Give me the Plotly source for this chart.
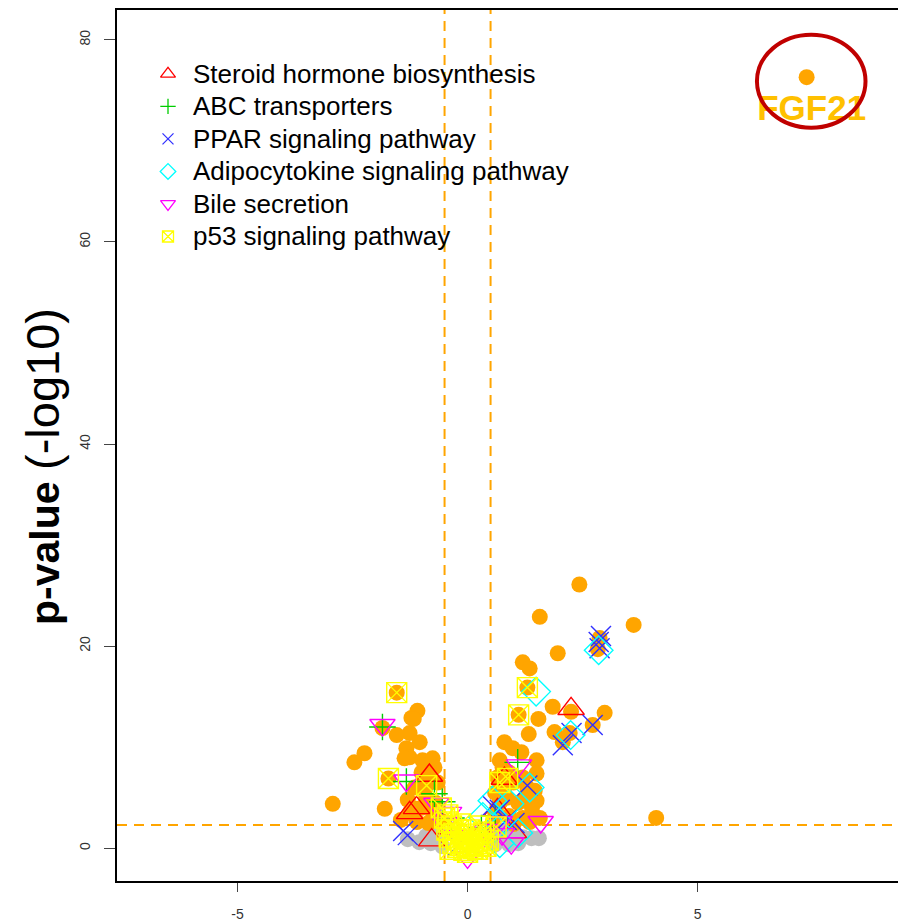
import plotly.graph_objects as go

# ---------------- data ----------------
# significant genes (orange filled circles): log2 fold change, -log10 p
sig_x = [2.43, 1.57, 3.61, 1.96, 1.20, 1.35, 2.87, 2.83, 1.30, 1.11, 1.85, 1.54,
         2.25, 2.98, 2.72, 1.33, 1.89, 2.07, 2.22, 0.80, 0.98, 1.17, 1.50, 0.70,
         0.76, 1.50, 1.46, 1.50, 1.57, 4.10, 0.65, 0.90, 1.00, 1.20, 0.60, 0.80,
         1.30, 0.70, 1.10, 0.60, 0.90, 1.20, 1.35, 0.55, 1.00, 1.40, 0.85, 1.25,
         -1.54, -1.09, -1.22, -1.85, -1.54, -1.26, -1.04, -2.24, -2.46, -1.33,
         -1.26, -1.37, -0.98, -0.76, -0.72, -1.72, -0.89, -2.93, -1.80, -1.26,
         -1.11, -1.17, -1.00, -0.80, -0.65, -1.15, -0.90, -0.70, -1.30, -1.00,
         -0.75, -1.45, -0.60, -1.10, -0.85, 7.37]
sig_y = [26.1, 22.9, 22.1, 19.3, 18.4, 17.8, 20.8, 19.7, 15.9, 13.2, 14.0, 12.8,
         13.5, 13.4, 12.2, 11.3, 11.5, 10.5, 11.4, 10.5, 9.9, 9.5, 8.7, 8.7,
         8.0, 7.4, 5.7, 4.7, 3.0, 3.0, 7.0, 7.5, 6.5, 7.0, 5.5, 6.0,
         6.0, 4.5, 4.5, 3.5, 3.2, 3.0, 2.6, 2.6, 2.4, 4.0, 5.0, 5.0,
         15.4, 13.6, 12.9, 11.9, 11.2, 11.4, 10.5, 9.4, 8.5, 9.9,
         9.0, 8.9, 8.7, 8.9, 8.0, 6.9, 6.2, 4.4, 3.9, 3.5,
         3.9, 12.8, 7.5, 7.0, 6.5, 6.0, 5.0, 4.5, 4.8, 4.0,
         3.5, 2.8, 2.8, 2.6, 2.5, 76.3]

# non-significant genes (grey filled circles)
ns_x = [-1.30, -1.05, -0.80, -0.55, -0.60, 0.60, 0.80, 1.00, 1.20, 1.39, 0.70,
        -0.90, 0.90, -0.70, 0.55, 1.10, 1.55]
ns_y = [0.9, 0.6, 0.5, 0.2, 1.5, 0.4, 0.8, 1.3, 1.1, 1.0, 1.8,
        1.2, 0.4, 0.9, 1.2, 0.5, 1.0]

# KEGG pathway members
steroid_x = [2.25, 0.80, 1.00, -0.83, -1.26, -1.11, -0.78, 0.30, -0.35, 0.65]
steroid_y = [13.8, 6.9, 1.6, 7.2, 3.5, 4.0, 0.8, 1.5, 2.0, 3.8]

abc_x = [-1.85, -1.33, 1.09, -0.72, -0.55, -0.35, 0.60, 0.30]
abc_y = [12.0, 6.6, 8.5, 5.4, 4.6, 3.0, 3.2, 2.0]

ppar_x = [2.90, 2.85, 2.87, 2.72, 2.07, 2.26, 1.30, 0.54, 0.70, 0.85, 1.02,
          -1.30, -1.40, 0.25, -0.20]
ppar_y = [21.0, 20.4, 19.8, 12.2, 10.2, 11.4, 6.2, 4.2, 3.8, 2.8, 2.5,
          1.3, 1.7, 1.0, 0.3]

adipo_x = [2.85, 1.49, 2.24, 1.35, 0.54, 0.91, 0.70, 0.33, 0.60, 1.10]
adipo_y = [19.6, 15.5, 11.2, 6.0, 4.7, 4.4, 0.5, 3.1, 2.0, 1.5]

bile_x = [-1.85, -1.33, 1.12, 1.59, 0.95, 0.70, -0.68, -0.40, 0.00, 0.40, 0.75,
          -0.50, 0.20, -0.25]
bile_y = [12.2, 6.7, 8.2, 2.6, 0.5, 2.6, 4.4, 3.5, -0.9, 1.8, 1.4,
          2.5, 0.2, 1.2]

p53_x = [-1.54, -1.72, -0.89, 1.30, 1.11, 0.70, 0.87, 0.62, -0.57, -0.43,
         -0.50, -0.42, -0.35, -0.45, -0.30, -0.40, -0.25, -0.32, -0.15, -0.20,
         -0.10, -0.05, 0.00, 0.05, 0.10, 0.15, 0.20, 0.25, 0.30, 0.35, 0.40,
         0.12, -0.08, 0.22, -0.22, 0.45, 0.05, -0.15, 0.28, -0.38, 0.35, 0.00]
p53_y = [15.4, 6.9, 6.2, 15.9, 13.2, 6.5, 6.9, 2.1, 4.0, 3.3,
         3.0, 2.6, 2.2, 1.8, 1.5, 1.1, 0.9, 0.5, 0.3, 1.8,
         1.2, 0.6, 0.2, 0.9, 0.4, 1.4, 0.7, 0.3, 1.0, 0.5, 0.2,
         0.0, -0.2, -0.1, 0.1, 0.8, 1.8, 2.4, 2.2, -0.1, 1.6, -0.4]

pathway_names = ["Steroid hormone biosynthesis", "ABC transporters",
                 "PPAR signaling pathway", "Adipocytokine signaling pathway",
                 "Bile secretion", "p53 signaling pathway"]
pathway_x = [steroid_x, abc_x, ppar_x, adipo_x, bile_x, p53_x]
pathway_y = [steroid_y, abc_y, ppar_y, adipo_y, bile_y, p53_y]
pathway_symbols = ["triangle-up-open", "cross-thin-open", "x-thin-open",
                   "diamond-open", "triangle-down-open", "square-x-open"]
pathway_colors = ["#FF0000", "#00CD00", "#3030FF", "#00FFFF", "#FF00FF", "#FFFF00"]
pathway_sizes = [23, 19, 20, 22, 22, 20]
legend_sizes = [13, 11, 11, 12, 13, 11]

fc_cut = 0.5
p_cut = 2.3
label_gene = "FGF21"
label_x, label_y = 7.48, 72.9

# ---------------- geometry ----------------
W, H = 898, 915           # page body has an 8px margin in the browser
ML, MT, MB = 109, 0, 42
plot_w = W - ML
plot_h = H - MT - MB

def px_to_paper_x(px):
    return (px - 8 - ML) / plot_w

def px_to_paper_y(py):
    return 1 - (py - 8 - MT) / plot_h

# ---------------- figure ----------------
fig = go.Figure()

fig.add_trace(go.Scatter(x=ns_x, y=ns_y, mode="markers", showlegend=False,
                         marker=dict(color="#BEBEBE", size=16, line=dict(width=0))))
fig.add_trace(go.Scatter(x=sig_x, y=sig_y, mode="markers", showlegend=False,
                         marker=dict(color="#FFA500", size=16, line=dict(width=0))))

for name, xs, ys, sym, col, sz in zip(pathway_names, pathway_x, pathway_y,
                                      pathway_symbols, pathway_colors, pathway_sizes):
    fig.add_trace(go.Scatter(x=xs, y=ys, mode="markers", name=name, showlegend=False,
                             marker=dict(symbol=sym, size=sz, color=col,
                                         line=dict(color=col, width=1.4))))

fig.add_trace(go.Scatter(x=[label_x], y=[label_y], mode="text", showlegend=False,
                         text=["<b>" + label_gene + "</b>"],
                         textfont=dict(color="#FFC000", size=35,
                                       family="Liberation Sans, Arial, sans-serif")))

# legend drawn by hand (R-style legend box without border)
row_top_px = 72
row_gap_px = 32.6
sym_px = 168
text_px = 191
for i, (name, sym, col, lsz) in enumerate(zip(pathway_names, pathway_symbols,
                                              pathway_colors, legend_sizes)):
    yy = px_to_paper_y(row_top_px + i * row_gap_px)
    fig.add_trace(go.Scatter(x=[px_to_paper_x(sym_px)], y=[yy], mode="markers",
                             xaxis="x2", yaxis="y2", showlegend=False, hoverinfo="skip",
                             marker=dict(symbol=sym, size=lsz, color=col,
                                         line=dict(color=col, width=1.3))))
    fig.add_annotation(xref="paper", yref="paper", x=px_to_paper_x(text_px), y=yy,
                       text=name, showarrow=False, xanchor="left", yanchor="middle",
                       font=dict(size=26, color="#000000",
                                 family="Liberation Sans, Arial, sans-serif"))

dash_style = dict(color="#FFA500", width=2, dash="10px,7px")
fig.add_shape(type="line", xref="x", yref="paper", x0=-fc_cut, x1=-fc_cut, y0=0, y1=1,
              line=dash_style, layer="below")
fig.add_shape(type="line", xref="x", yref="paper", x0=fc_cut, x1=fc_cut, y0=0, y1=1,
              line=dash_style, layer="below")
fig.add_shape(type="line", xref="paper", yref="y", x0=0, x1=1, y0=p_cut, y1=p_cut,
              line=dash_style, layer="below")

# highlight ellipse around FGF21
fig.add_shape(type="circle", xref="x", yref="y", x0=6.29, x1=8.65, y0=71.3, y1=80.5,
              line=dict(color="#C00000", width=4), layer="above")

fig.add_annotation(xref="paper", yref="paper", x=px_to_paper_x(43), y=px_to_paper_y(466),
                   text="<b>p-value</b> <span style='font-size:47px'>(-log10)</span>",
                   textangle=-90, showarrow=False,
                   xanchor="center", yanchor="middle",
                   font=dict(size=41, color="#000000",
                             family="Liberation Sans, Arial, sans-serif"))

fig.update_layout(
    width=W, height=H,
    margin=dict(l=ML, r=0, t=MT, b=MB),
    paper_bgcolor="white", plot_bgcolor="white",
    font=dict(family="Liberation Sans, Arial, sans-serif", color="#000000"),
    showlegend=False,
    xaxis=dict(range=[-7.62, 9.53], tickvals=[-5, 0, 5], ticktext=["-5", "0", "5"],
               showgrid=False, zeroline=False, showline=True, mirror=True,
               linecolor="#000000", linewidth=1.5, ticks="outside", ticklen=9,
               tickwidth=1.2, tickcolor="#444", ticklabelstandoff=10,
               tickfont=dict(size=14, color="#333")),
    yaxis=dict(range=[-3.24, 82.95], tickvals=[0, 20, 40, 60, 80],
               showgrid=False, zeroline=False, showline=True, mirror=False,
               linecolor="#000000", linewidth=1.5, ticks="outside", ticklen=11,
               tickwidth=1.2, tickcolor="#444", tickangle=-90, ticklabelstandoff=9,
               tickfont=dict(size=14, color="#333")),
    xaxis2=dict(overlaying="x", range=[0, 1], visible=False, anchor="y2"),
    yaxis2=dict(overlaying="y", range=[0, 1], visible=False, anchor="x2"),
)

fig.write_html("out.html")
